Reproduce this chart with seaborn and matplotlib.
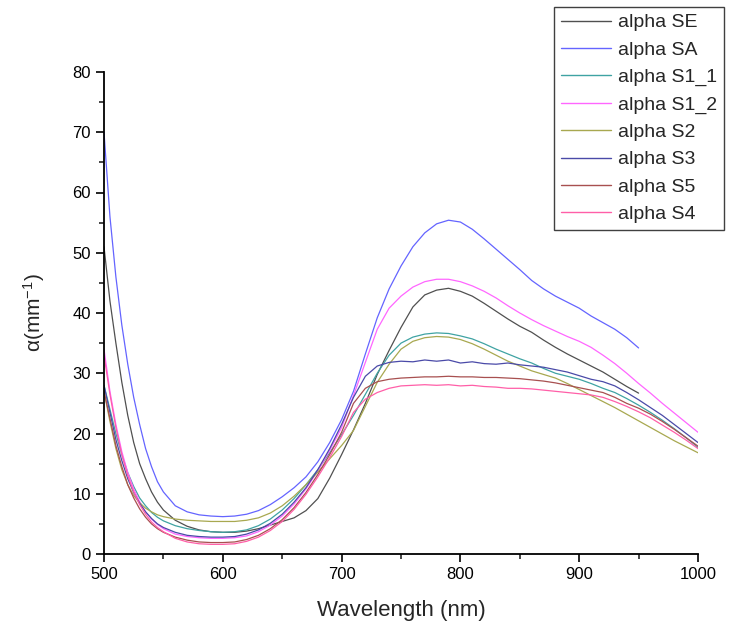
import numpy as np
import pandas as pd
import matplotlib
matplotlib.use("Agg")
import matplotlib.pyplot as plt
import seaborn as sns
from matplotlib.ticker import MultipleLocator

# ---------------- data ----------------
wavelength = [500, 505, 510, 515, 520, 525, 530, 535, 540, 545, 550,
              560, 570, 580, 590, 600, 610, 620, 630, 640, 650,
              660, 670, 680, 690, 700, 710, 720, 730, 740, 750,
              760, 770, 780, 790, 800, 810, 820, 830, 840, 850,
              860, 870, 880, 890, 900, 910, 920, 930, 940, 950,
              960, 970, 980, 990, 1000]

alpha_SE = [51, 42, 35, 28.5, 23, 18.5, 15, 12.5, 10.3, 8.6, 7.3,
            5.6, 4.6, 4.0, 3.7, 3.6, 3.6, 3.8, 4.2, 4.8, 5.4,
            6.0, 7.2, 9.2, 12.6, 16.5, 20.6, 25.0, 29.8, 33.8, 37.6,
            41.0, 43.0, 43.8, 44.1, 43.6, 42.8, 41.6, 40.3, 39.0, 37.8,
            36.8, 35.5, 34.3, 33.2, 32.2, 31.2, 30.2, 29.0, 27.8, 26.7]

alpha_SA = [70, 56, 46, 38, 31.5, 26, 21.5, 17.5, 14.5, 12.0, 10.3,
            8.0, 7.0, 6.5, 6.3, 6.2, 6.3, 6.6, 7.2, 8.2, 9.5,
            11.0, 12.8, 15.3, 18.5, 22.3, 27.0, 33.2, 39.2, 44.0, 47.8,
            51.0, 53.3, 54.8, 55.4, 55.1, 53.9, 52.3, 50.6, 48.9, 47.2,
            45.4, 44.0, 42.8, 41.8, 40.8, 39.5, 38.4, 37.3, 35.9, 34.2]

alpha_S1_1 = [28, 24, 20, 16.5, 13.5, 11.2, 9.3, 8.0, 6.9, 6.1, 5.5,
              4.7, 4.2, 3.9, 3.7, 3.6, 3.7, 4.0, 4.7, 5.8, 7.3,
              9.2, 11.5, 14.0, 16.8, 19.8, 23.0, 26.5, 30.0, 33.0, 35.0,
              36.0, 36.5, 36.7, 36.6, 36.2, 35.7, 34.9, 34.0, 33.2, 32.4,
              31.7, 30.8, 30.0, 29.5, 29.0, 28.3, 27.5, 26.8, 25.8, 24.7,
              23.5, 22.2, 20.8, 19.3, 17.7]

alpha_S1_2 = [34, 27, 21.5, 17, 13.5, 10.8, 8.7, 7.0, 5.8, 4.9, 4.2,
              3.3, 2.9, 2.7, 2.6, 2.6, 2.7, 3.0, 3.7, 4.8, 6.3,
              8.3, 10.8, 13.8, 17.2, 21.0, 26.3, 31.8, 37.3, 40.8, 42.8,
              44.3, 45.2, 45.6, 45.6, 45.2, 44.5, 43.6, 42.5, 41.2, 40.0,
              38.9, 37.9, 37.0, 36.1, 35.3, 34.3, 33.0, 31.6, 30.0, 28.3,
              26.7, 25.0, 23.4, 21.8, 20.2]

alpha_S2 = [27, 22, 17.5, 14, 11.5, 9.7, 8.5, 7.6, 7.0, 6.5, 6.2,
            5.8, 5.6, 5.5, 5.4, 5.4, 5.4, 5.6, 6.0, 6.8, 8.0,
            9.6, 11.5, 13.6, 15.8, 18.0, 20.5, 24.5, 28.5, 31.5, 34.0,
            35.3, 35.9, 36.1, 36.0, 35.6, 34.9, 34.0, 33.0, 32.0, 31.2,
            30.4, 29.8, 29.2, 28.3, 27.3, 26.3, 25.3, 24.3, 23.2, 22.1,
            21.0, 19.9, 18.8, 17.8, 16.8]

alpha_S3 = [28, 23.5, 19, 15.5, 12.5, 10.2, 8.4, 7.0, 5.9, 5.0, 4.4,
            3.6, 3.1, 2.9, 2.8, 2.8, 2.9, 3.3, 4.0, 5.1, 6.6,
            8.6, 11.0, 14.0, 17.5, 21.5, 26.0, 29.5, 31.2, 31.8, 32.0,
            31.9, 32.2, 32.0, 32.2, 31.7, 31.9, 31.6, 31.5, 31.7, 31.4,
            31.2, 31.0, 30.6, 30.2, 29.6, 29.0, 28.6, 27.9, 26.8, 25.6,
            24.3, 23.0, 21.5, 20.0, 18.5]

alpha_S5 = [27, 22.5, 18, 14.5, 11.5, 9.3, 7.5, 6.1, 5.0, 4.2, 3.6,
            2.8, 2.3, 2.0, 1.9, 1.9, 2.0, 2.4, 3.1, 4.2, 5.7,
            7.7, 10.2, 13.2, 16.5, 20.2, 25.0, 27.5, 28.6, 29.0, 29.2,
            29.3, 29.4, 29.4, 29.5, 29.4, 29.4, 29.3, 29.3, 29.2, 29.1,
            28.9, 28.7, 28.4, 28.0, 27.6, 27.2, 26.8, 26.0, 25.0, 24.2,
            23.2, 22.0, 20.7, 19.3, 17.9]

alpha_S4 = [33, 26.5, 21, 16.5, 13, 10.3, 8.2, 6.6, 5.3, 4.4, 3.7,
            2.6, 2.0, 1.7, 1.6, 1.6, 1.7, 2.1, 2.8, 3.9, 5.4,
            7.4, 9.9, 12.8, 16.0, 19.5, 23.5, 25.7, 26.8, 27.5, 27.9,
            28.0, 28.1, 28.0, 28.1, 27.9, 28.0, 27.8, 27.7, 27.5, 27.5,
            27.4, 27.2, 27.0, 26.8, 26.6, 26.4, 26.0, 25.3, 24.5, 23.6,
            22.6, 21.4, 20.2, 18.9, 17.5]

series_names = ["alpha SE", "alpha SA", "alpha S1_1", "alpha S1_2",
                "alpha S2", "alpha S3", "alpha S5", "alpha S4"]
series_values = [alpha_SE, alpha_SA, alpha_S1_1, alpha_S1_2,
                 alpha_S2, alpha_S3, alpha_S5, alpha_S4]
series_colors = ["#505050", "#6464ff", "#3fa3a3", "#ff66ff",
                 "#a8a850", "#4a4aa8", "#a85050", "#ff5fa8"]

frames = []
for name, vals in zip(series_names, series_values):
    frames.append(pd.DataFrame({"wavelength": wavelength[:len(vals)],
                                "alpha": vals, "series": name}))
df = pd.concat(frames, ignore_index=True)

# ---------------- plot ----------------
sns.set_style("ticks")
plt.rcParams["font.family"] = ["Liberation Sans", "DejaVu Sans"]
plt.rcParams["mathtext.fontset"] = "custom"
plt.rcParams["mathtext.rm"] = "Liberation Sans"
plt.rcParams["mathtext.it"] = "Liberation Sans:italic"

fig = plt.figure(figsize=(7.29, 6.28), dpi=100)
ax = fig.add_axes([104/729, 1-554/628, (698-104)/729, (554-72)/628])

sns.lineplot(data=df, x="wavelength", y="alpha", hue="series",
             hue_order=series_names,
             palette=dict(zip(series_names, series_colors)),
             estimator=None, sort=False, linewidth=0.9, ax=ax, legend=True)

ax.set_xlim(500, 1000)
ax.set_ylim(0, 80)
ax.xaxis.set_major_locator(MultipleLocator(100))
ax.xaxis.set_minor_locator(MultipleLocator(50))
ax.yaxis.set_major_locator(MultipleLocator(10))
ax.yaxis.set_minor_locator(MultipleLocator(5))
ax.tick_params(which="major", direction="out", length=6, width=1.2,
               labelsize=12, colors="black")
ax.tick_params(which="minor", direction="out", length=3.5, width=1.2)
for s in ["top", "right"]:
    ax.spines[s].set_visible(False)
for s in ["left", "bottom"]:
    ax.spines[s].set_linewidth(1.3)
    ax.spines[s].set_color("black")

ax.set_xlabel("Wavelength (nm)", fontsize=16, labelpad=13)
ax.set_ylabel(r"$\mathrm{\alpha}$(mm$^{-1}$)", fontsize=15, labelpad=18)

handles, labels = ax.get_legend_handles_labels()
leg = ax.legend(handles, labels, loc="upper right",
                bbox_to_anchor=(724/729, 1-7/628), bbox_transform=fig.transFigure,
                fontsize=14, frameon=True, fancybox=False, framealpha=1,
                edgecolor="#404040", labelspacing=0.5, handlelength=2.6,
                handletextpad=0.35, borderpad=0.35, borderaxespad=0)
leg.get_frame().set_linewidth(1.0)
for line in leg.get_lines():
    line.set_linewidth(1.0)

fig.savefig("out.png", dpi=100)
